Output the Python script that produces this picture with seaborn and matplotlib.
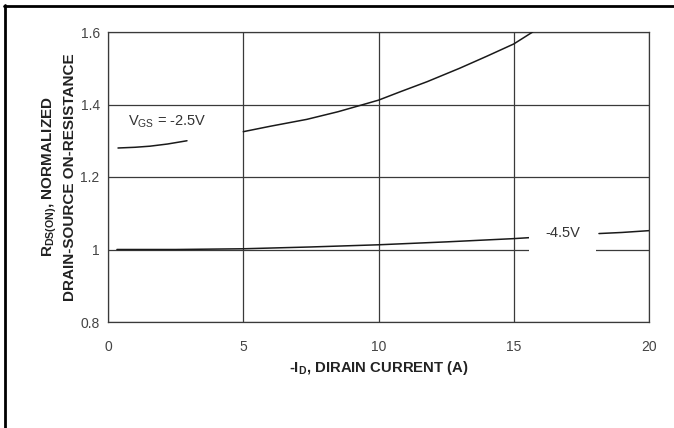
import numpy as np
import pandas as pd
import matplotlib
matplotlib.use("Agg")
import matplotlib.pyplot as plt
from matplotlib.lines import Line2D
from matplotlib.ticker import MultipleLocator, FixedLocator
import seaborn as sns

# Normalized on-resistance vs drain current, one curve per gate voltage
vgs_labels = ["-2.5V", "-4.5V"]

id_25_low = [0.37, 1.0, 1.55, 2.2, 2.92]
rds_25_low = [1.280, 1.282, 1.285, 1.291, 1.300]
id_25_high = [5.0, 6.0, 7.35, 8.5, 9.3, 10.0, 10.8, 11.8, 13.0, 14.0, 15.0, 15.7]
rds_25_high = [1.325, 1.340, 1.359, 1.380, 1.397, 1.412, 1.435, 1.463, 1.500, 1.533, 1.567, 1.600]

id_45_low = [0.33, 2.5, 5.0, 7.5, 10.0, 12.5, 15.0, 15.65]
rds_45_low = [1.000, 1.000, 1.002, 1.007, 1.013, 1.021, 1.030, 1.033]
id_45_high = [18.15, 19.0, 20.0]
rds_45_high = [1.044, 1.047, 1.052]

x_ticks = [0, 5, 10, 15, 20]
y_ticks = [0.8, 1.0, 1.2, 1.4, 1.6]
y_tick_labels = ["0.8", "1", "1.2", "1.4", "1.6"]

frames = []
for seg, (xs, ys, v) in enumerate([
    (id_25_low, rds_25_low, vgs_labels[0]),
    (id_25_high, rds_25_high, vgs_labels[0]),
    (id_45_low, rds_45_low, vgs_labels[1]),
    (id_45_high, rds_45_high, vgs_labels[1]),
]):
    frames.append(pd.DataFrame({"id": xs, "rds": ys, "vgs": v, "seg": seg}))
df = pd.concat(frames, ignore_index=True)

sns.set_theme(style="white")
plt.rcParams["font.family"] = ["Liberation Sans", "DejaVu Sans"]
plt.rcParams["mathtext.fontset"] = "custom"
plt.rcParams["mathtext.rm"] = "Liberation Sans"
plt.rcParams["mathtext.it"] = "Liberation Sans:italic"
plt.rcParams["mathtext.bf"] = "Liberation Sans:bold"

fig = plt.figure(figsize=(6.74, 4.28), dpi=100)
ax = fig.add_axes([108 / 674, 1 - 322 / 428, 541 / 674, 290 / 428])

sns.lineplot(data=df, x="id", y="rds", units="seg", estimator=None,
             color="#1a1a1a", linewidth=1.1, ax=ax, legend=False, zorder=3)

ax.set_xlim(0, 20)
ax.set_ylim(0.8, 1.6)
ax.xaxis.set_major_locator(FixedLocator(x_ticks))
ax.yaxis.set_major_locator(FixedLocator(y_ticks))
ax.set_yticklabels(y_tick_labels)
ax.xaxis.set_minor_locator(MultipleLocator(2.5))
ax.yaxis.set_minor_locator(MultipleLocator(0.1))

grid_c = "#3a3a3a"
ax.grid(True, which="major", color=grid_c, linewidth=0.9)
ax.set_axisbelow(True)
for sp in ax.spines.values():
    sp.set_color(grid_c)
    sp.set_linewidth(0.9)

ax.tick_params(axis="both", which="major", length=0, labelsize=10,
               labelcolor="#444444")
ax.tick_params(axis="x", which="major", pad=13)
ax.tick_params(axis="y", which="major", pad=6)
ax.tick_params(axis="both", which="minor", direction="in", length=5,
               width=0.8, color=grid_c)

ax.set_xlabel(r"-I$_{\bf D}$, DIRAIN CURRENT (A)", fontsize=10.7,
              fontweight="bold", color="#222222")
ax.xaxis.set_label_coords(0.5, -0.128)
ax.set_ylabel("R$_{\\bf DS(ON)}$, NORMALIZED\nDRAIN-SOURCE ON-RESISTANCE",
              fontsize=11, fontweight="bold", color="#222222", linespacing=1.3)
ax.yaxis.set_label_coords(-0.058, 0.5)

ax.text(0.74, 1.352, r"V$_{\mathrm{GS}}$ = " + vgs_labels[0], fontsize=10.5,
        color="#333333", ha="left", va="center", zorder=4)
ax.text(16.8, 1.046, vgs_labels[1], fontsize=10.5, color="#333333",
        ha="center", va="center", zorder=4,
        bbox=dict(boxstyle="square,pad=1.1", facecolor="white",
                  edgecolor="none"))

# page frame edges (top and left)
fig.add_artist(Line2D([4 / 674, 1], [1 - 5.5 / 428, 1 - 5.5 / 428],
                      transform=fig.transFigure, color="black", linewidth=2))
fig.add_artist(Line2D([4.5 / 674, 4.5 / 674], [0, 1 - 4.5 / 428],
                      transform=fig.transFigure, color="black", linewidth=2))

fig.savefig("out.png", dpi=100)
